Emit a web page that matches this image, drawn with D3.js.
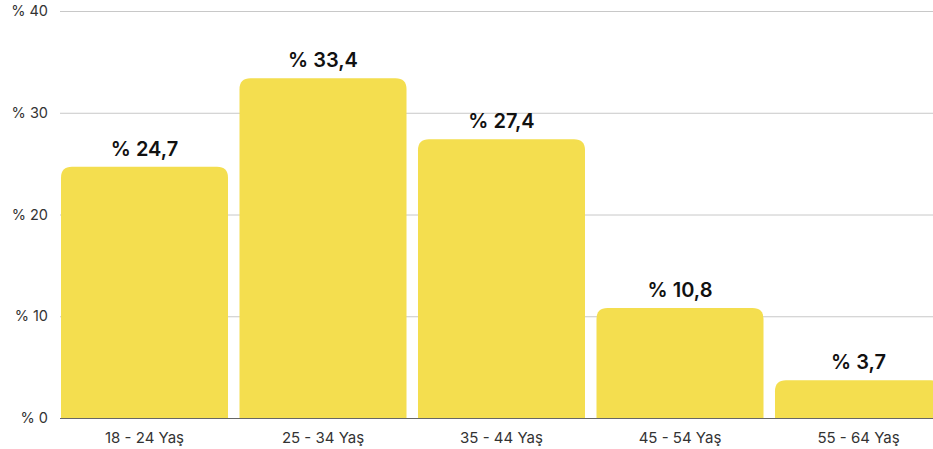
<!DOCTYPE html>
<html><head><meta charset="utf-8">
<script src="https://cdn.jsdelivr.net/npm/d3@7"></script>
<style>
html,body{margin:0;padding:0;background:#fff;overflow:hidden}
text{font-family:Inter,"Open Sans",sans-serif}
</style></head>
<body>
<svg id="c" width="933" height="449"></svg>
<script>
const categories = ["18 - 24 Yaş","25 - 34 Yaş","35 - 44 Yaş","45 - 54 Yaş","55 - 64 Yaş"];
const values = [24.7, 33.4, 27.4, 10.8, 3.7];
const valueLabels = ["% 24,7","% 33,4","% 27,4","% 10,8","% 3,7"];
const yTicks = [0,10,20,30,40];
const yTickLabels = ["% 0","% 10","% 20","% 30","% 40"];

const svg = d3.select("#c");
const W = 933, H = 449;
const x = d3.scaleBand().domain(categories).range([55.25, 947.75]).paddingInner(0.0644).paddingOuter(0.0322);
const y = d3.scaleLinear().domain([0,40]).range([418, 11]);
const left = 60;

// gridlines
svg.append("g").selectAll("line").data(yTicks.filter(d=>d>0)).join("line")
  .attr("x1", left).attr("x2", W).attr("y1", d=>y(d)+0.5).attr("y2", d=>y(d)+0.5)
  .attr("stroke", "#c8c8c8").attr("stroke-width", 1);

// y labels
svg.append("g").selectAll("text").data(yTicks).join("text")
  .attr("x", 48).attr("y", d=>y(d)).attr("dy","0.35em").attr("text-anchor","end")
  .attr("font-size", 14.5).attr("fill", "#333").text((d,i)=>yTickLabels[i]);

// bars with rounded top corners
const r = 11;
function barPath(x0, w, yTop, yBot){
  const rr = Math.min(r, (yBot-yTop), w/2);
  return `M${x0},${yBot}V${yTop+rr}Q${x0},${yTop} ${x0+rr},${yTop}H${x0+w-rr}Q${x0+w},${yTop} ${x0+w},${yTop+rr}V${yBot}Z`;
}
svg.append("g").selectAll("path").data(values).join("path")
  .attr("d", (d,i)=>barPath(x(categories[i]), x.bandwidth(), y(d), y(0)))
  .attr("fill", "#F4DE4F");

// baseline axis
svg.append("line").attr("x1", left).attr("x2", W).attr("y1", y(0)+0.5).attr("y2", y(0)+0.5)
  .attr("stroke", "#666").attr("stroke-width", 1);

// value labels
svg.append("g").selectAll("text").data(values).join("text")
  .attr("x", (d,i)=>x(categories[i]) + x.bandwidth()/2)
  .attr("y", d=>y(d) - 11)
  .attr("text-anchor","middle").attr("font-size", 20).attr("font-weight", 600).attr("fill","#111")
  .text((d,i)=>valueLabels[i]);

// category labels
svg.append("g").selectAll("text").data(categories).join("text")
  .attr("x", d=>x(d) + x.bandwidth()/2).attr("y", 443)
  .attr("text-anchor","middle").attr("font-size", 15).attr("fill","#333").text(d=>d);
</script>
</body></html>
